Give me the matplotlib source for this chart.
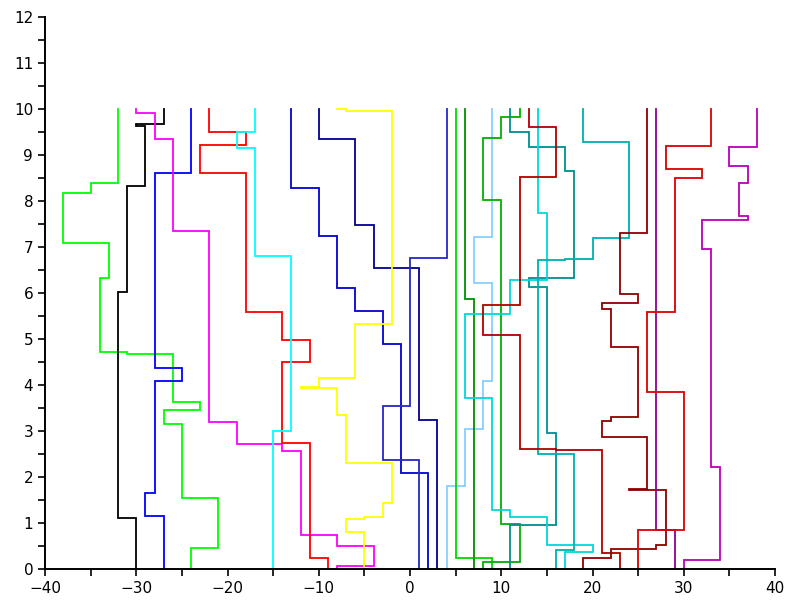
import numpy as np
import matplotlib
matplotlib.use("Agg")
import matplotlib.pyplot as plt
from matplotlib.ticker import MultipleLocator

# each walk: x level held from the bottom (y=0) up, and the y where it jumps
green_x = [-24, -21, -25, -27, -23, -26, -31, -34, -33, -38, -35, -32]
green_y = [0.46, 1.55, 3.15, 3.45, 3.64, 4.68, 4.72, 6.32, 7.08, 8.18, 8.40]
black_x = [-30, -32, -31, -29, -30, -27]
black_y = [1.10, 6.02, 8.33, 9.64, 9.67]
blue_x = [-27, -29, -28, -25, -28, -24]
blue_y = [1.15, 1.65, 4.09, 4.38, 8.61]
magenta_x = [-8, -4, -8, -12, -14, -19, -22, -26, -28, -30]
magenta_y = [0.065, 0.50, 0.75, 2.57, 2.71, 3.20, 7.35, 9.35, 9.91]
red_x = [-9, -11, -14, -11, -14, -18, -23, -18, -22]
red_y = [0.25, 2.73, 4.51, 4.98, 5.59, 8.61, 9.22, 9.49]
cyan_x = [-15, -13, -17, -19, -17]
cyan_y = [2.99, 6.81, 9.16, 9.49]
blue2_x = [2, -1, -3, -6, -8, -10, -13]
blue2_y = [2.08, 4.89, 5.61, 6.10, 7.25, 8.29]
blue4_x = [3, 1, -4, -6, -10]
blue4_y = [3.24, 6.55, 7.48, 9.35]
blue3_x = [1, -3, 0, 4]
blue3_y = [2.38, 3.54, 6.77]
yellow_x = [-5, -7, -5, -3, -2, -7, -8, -12, -10, -6, -2, -7, -8]
yellow_y = [0.81, 1.09, 1.12, 1.44, 2.30, 3.35, 3.94, 3.96, 4.15, 5.32, 9.96, 9.99]
lightblue_x = [4, 6, 8, 9, 7, 9]
lightblue_y = [1.80, 3.04, 4.09, 6.21, 7.21]
green2_x = [9, 5]
green2_y = [0.25]
green4_x = [7, 6]
green4_y = [5.87]
green3_x = [8, 12, 10, 8, 10, 12]
green3_y = [0.16, 0.98, 8.02, 9.36, 9.83]
cyan4_x = [11, 16, 15, 13, 18, 17, 13, 11]
cyan4_y = [0.96, 2.96, 6.12, 6.33, 8.65, 9.18, 9.51]
cyan2_x = [17, 20, 15, 11, 9, 6, 11, 15, 14]
cyan2_y = [0.36, 0.52, 1.12, 1.28, 3.72, 5.54, 6.28, 7.75]
cyan3_x = [16, 18, 14, 17, 20, 24, 19]
cyan3_y = [0.41, 2.49, 6.72, 6.74, 7.19, 9.29]
red3_x = [23, 21, 16, 12, 8, 12, 16, 13]
red3_y = [0.34, 2.59, 2.61, 5.09, 5.75, 8.53, 9.60]
red4_x = [19, 22, 27, 28, 24, 26, 21, 22, 25, 22, 21, 25, 23, 26]
red4_y = [0.23, 0.43, 0.52, 1.72, 1.73, 2.88, 3.22, 3.31, 4.82, 5.65, 5.78, 5.97, 7.30]
magenta4_x = [29, 27]
magenta4_y = [0.85]
red2_x = [25, 30, 26, 29, 32, 28, 33]
red2_y = [0.85, 3.84, 5.59, 8.51, 8.70, 9.20]
magenta3_x = [30, 34, 33, 32, 37, 36, 37, 35, 38]
magenta3_y = [0.20, 2.22, 6.95, 7.59, 7.68, 8.40, 8.77, 9.18]

walks = [
    (green_x, green_y, (0, 1, 0)),
    (black_x, black_y, (0, 0, 0)),
    (blue_x, blue_y, (0, 0, 1)),
    (magenta_x, magenta_y, (1, 0, 1)),
    (red_x, red_y, (1, 0, 0)),
    (cyan_x, cyan_y, (0, 1, 1)),
    (blue2_x, blue2_y, (0, 0, 0.82)),
    (blue4_x, blue4_y, (0, 0, 0.56)),
    (blue3_x, blue3_y, (0.15, 0.15, 0.78)),
    (yellow_x, yellow_y, (1, 1, 0)),
    (lightblue_x, lightblue_y, (0.53, 0.81, 1)),
    (green2_x, green2_y, (0, 0.85, 0)),
    (green4_x, green4_y, (0, 0.56, 0)),
    (green3_x, green3_y, (0, 0.69, 0)),
    (cyan4_x, cyan4_y, (0, 0.56, 0.56)),
    (cyan2_x, cyan2_y, (0, 0.85, 0.85)),
    (cyan3_x, cyan3_y, (0, 0.69, 0.69)),
    (red3_x, red3_y, (0.69, 0, 0)),
    (red4_x, red4_y, (0.56, 0, 0)),
    (magenta4_x, magenta4_y, (0.56, 0, 0.56)),
    (red2_x, red2_y, (0.85, 0, 0)),
    (magenta3_x, magenta3_y, (0.72, 0, 0.72)),
]

fig = plt.figure(figsize=(7.85, 6.02), dpi=100)
ax = fig.add_axes([45 / 785, 33 / 602, 730 / 785, 552 / 602])

for xs, ys, col in walks:
    levels = np.concatenate([[0], ys, [10]])
    px = np.repeat(xs, 2)
    py = np.column_stack([levels[:-1], levels[1:]]).ravel()
    ax.plot(px, py, color=col, lw=1.3, solid_joinstyle="miter")

ax.set_xlim(-40, 40)
ax.set_ylim(0, 12)
ax.xaxis.set_major_locator(MultipleLocator(10))
ax.xaxis.set_minor_locator(MultipleLocator(5))
ax.yaxis.set_major_locator(MultipleLocator(1))
ax.yaxis.set_minor_locator(MultipleLocator(0.5))
ax.tick_params(which="both", direction="out", length=5, width=1.2, labelsize=11)
ax.spines["top"].set_visible(False)
ax.spines["right"].set_visible(False)
ax.spines["left"].set_linewidth(1.4)
ax.spines["bottom"].set_linewidth(1.4)

# keep the last x label inside the canvas
fig.canvas.draw()
ax.get_xticklabels()[-1].set_horizontalalignment("right")

fig.savefig("out.png", dpi=100)
